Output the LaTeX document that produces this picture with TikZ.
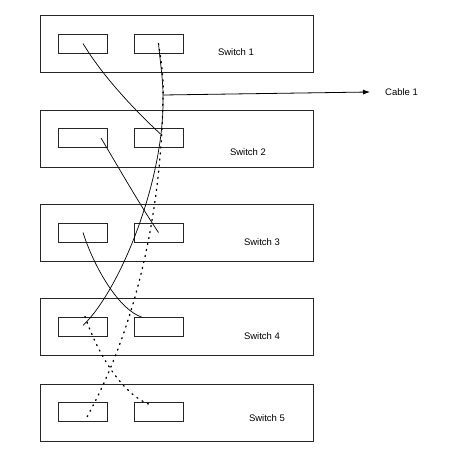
\documentclass[tikz,border=0pt]{standalone}
\usepackage{fontspec}
\setmainfont{Liberation Sans}
\usetikzlibrary{arrows.meta}
\begin{document}
\begin{tikzpicture}[x=1pt,y=-1pt,
  switchbox/.style={draw=black!85,line width=0.8pt,minimum width=273pt,minimum height=57pt,inner sep=0pt},
  portbox/.style={draw=black!85,line width=0.8pt,minimum width=49pt,minimum height=19pt,inner sep=0pt},
  lbl/.style={font=\fontsize{9.5}{11}\selectfont,inner sep=0pt},
  cable/.style={line width=0.7pt},
  dotcable/.style={line width=1.3pt,dash pattern=on 1.1pt off 5pt,line cap=round}]
\useasboundingbox (0,0) rectangle (469,455);
% switches
\node[switchbox] (sw1) at (176.5,43.5) {};
\node[switchbox] (sw2) at (176.5,138.5) {};
\node[switchbox] (sw3) at (176.5,232.5) {};
\node[switchbox] (sw4) at (176.5,327) {};
\node[switchbox] (sw5) at (176.5,412.5) {};
% ports
\node[portbox] (p1l) at (83,43.5) {};
\node[portbox] (p1r) at (158.5,43.5) {};
\node[portbox] (p2l) at (83,138) {};
\node[portbox] (p2r) at (158.5,138) {};
\node[portbox] (p3l) at (83,232.5) {};
\node[portbox] (p3r) at (158.5,232.5) {};
\node[portbox] (p4l) at (83,326.5) {};
\node[portbox] (p4r) at (158.5,326.5) {};
\node[portbox] (p5l) at (83,412) {};
\node[portbox] (p5r) at (158.5,412) {};
% labels
\node[lbl] (t1) at (236,52) {Switch 1};
\node[lbl] (t2) at (248,152) {Switch 2};
\node[lbl] (t3) at (262,242) {Switch 3};
\node[lbl] (t4) at (262,336) {Switch 4};
\node[lbl] (t5) at (267,418) {Switch 5};
\node[lbl,anchor=west] (tc) at (385,92) {Cable 1};
% cable junction
\coordinate (j) at (163,95);
% solid cables
\draw[cable] (p1l.center) .. controls (105,80) and (140,115) .. ([xshift=2pt,yshift=4pt]p2r.center);
\draw[cable] (p1r.center) .. controls (160,60) and (163,80) .. (j)
  .. controls (165,180) and (120,290) .. ([yshift=1pt]p4l.center);
\draw[cable] ([xshift=18pt]p2l.center) .. controls (120,170) and (140,205) .. ([yshift=0pt]p3r.center);
\draw[cable] (p3l.center) .. controls (95,270) and (120,310) .. ([xshift=-17pt,yshift=9.5pt]p4r.center);
% dotted cables
\draw[dotcable] (p1r.center) .. controls (161,60) and (164,80) .. (j)
  .. controls (162,200) and (140,320) .. ([xshift=4pt,yshift=-5pt]p5l.center);
\draw[dotcable] ([xshift=2pt,yshift=10pt]p4l.center) .. controls (100,360) and (125,395) .. ([xshift=-10pt,yshift=8pt]p5r.center);
% cable label arrow
\draw[line width=0.8pt,-{Latex[length=7pt,width=5pt]}] (j) -- ([xshift=-15pt]tc.west);
\end{tikzpicture}
\end{document}
